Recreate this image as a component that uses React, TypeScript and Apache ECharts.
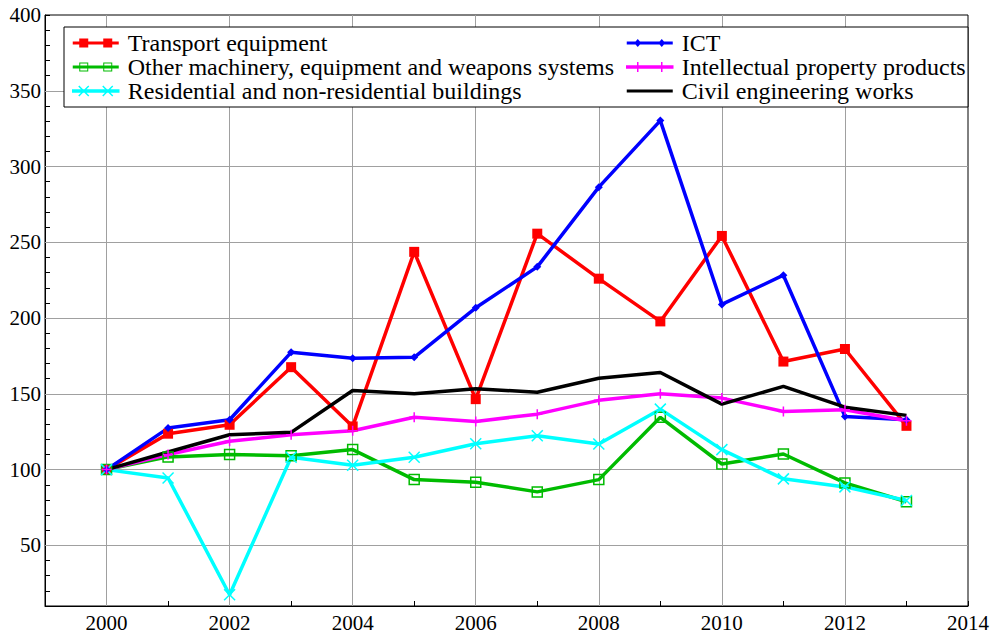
import React, { useEffect, useRef } from "react";
import * as echarts from "echarts";

const years = [2000, 2001, 2002, 2003, 2004, 2005, 2006, 2007, 2008, 2009, 2010, 2011, 2012, 2013];
const transport = [100, 123.7, 129.6, 167.6, 128.5, 243.7, 146.5, 255.7, 226, 197.8, 254.2, 171.3, 179.6, 128.9];
const otherMachinery = [100, 108.4, 109.9, 109.2, 113.2, 93.4, 91.7, 85.3, 93.4, 134.5, 103.7, 110.3, 91.2, 78.8];
const residential = [100, 94.5, 17.4, 108.2, 102.9, 108.2, 117.1, 122.4, 116.9, 139.9, 113.2, 93.9, 88.6, 79.6];
const ict = [100, 127.4, 132.9, 177.4, 173.5, 174.1, 206.8, 233.8, 286.4, 330.3, 209, 228.3, 135.1, 132.9];
const ipp = [100, 110, 118.7, 123, 125.7, 134.5, 131.8, 136.6, 145.7, 150, 147.2, 138.4, 139.5, 132.2];
const civil = [100, 111.6, 123, 124.6, 152.2, 150, 153.3, 151.1, 160.3, 164.1, 143.2, 154.9, 141.2, 135.8];

const seriesNames = [
  "Transport equipment",
  "Other machinery, equipment and weapons systems",
  "Residential and non-residential buildings",
  "ICT",
  "Intellectual property products",
  "Civil engineering works",
];

const xGridYears = [2000, 2002, 2004, 2006, 2008, 2010, 2012];
const yGridValues = [50, 100, 150, 200, 250, 300, 350];

const FONT = "'Liberation Serif', 'Times New Roman', serif";

const RED = "#ff0000";
const GREEN = "#00bb00";
const CYAN = "#00ffff";
const BLUE = "#0000ff";
const MAGENTA = "#ff00ff";
const BLACK = "#000000";

const icons = {
  transport: "path://M0,4.5H46V7.5H0Z M6.5,1.5H15.5V10.5H6.5Z M30.5,1.5H39.5V10.5H30.5Z",
  other:
    "path://M0,4.5H46V7.5H0Z M6.5,1.5H15.5V10.5H6.5Z M7.5,2.5V9.5H14.5V2.5Z M30.5,1.5H39.5V10.5H30.5Z M31.5,2.5V9.5H38.5V2.5Z",
  residential: "path://M0,5H46V7H0Z M6,1L16,11 M16,1L6,11 M30,1L40,11 M40,1L30,11",
  ict: "path://M0,4.5H46V7.5H0Z M11,2L14.5,6L11,10L7.5,6Z M35,2L38.5,6L35,10L31.5,6Z",
  ipp: "path://M0,5H46V7H0Z M11,1V11 M35,1V11",
  civil: "path://M0,4.5H46V7.5H0Z",
};

const pairs = (vals: number[]) => years.map((y, i) => [y, vals[i]]);

export default function App() {
  const ref = useRef<HTMLDivElement>(null);
  useEffect(() => {
    if (!ref.current) return;
    const chart = echarts.init(ref.current, undefined, { renderer: "svg" });
    const legendText = { fontFamily: FONT, fontSize: 24, color: "#000", lineHeight: 24, padding: [0, 0, 0, 4] };
    const legendCommon = {
      orient: "vertical",
      top: 31,
      itemGap: 0,
      itemWidth: 46,
      itemHeight: 12,
      padding: 0,
      selectedMode: false,
      z: 100,
      textStyle: legendText,
    };
    const LW = 3.5;
    const option: any = {
      animation: false,
      backgroundColor: "#fff",
      grid: {
        left: 45,
        top: 15,
        right: 27,
        bottom: 24,
        show: true,
        borderColor: "#000",
        borderWidth: 1,
        backgroundColor: "transparent",
      },
      xAxis: {
        type: "value",
        min: 1999,
        max: 2014,
        interval: 1,
        axisLine: { show: true, lineStyle: { color: "#000", width: 1 } },
        axisTick: { show: true, inside: true, length: 5, lineStyle: { color: "#000" } },
        splitLine: { show: false },
        axisLabel: {
          fontFamily: FONT,
          fontSize: 21,
          color: "#000",
          margin: 6,
          formatter: (v: number) => (v % 2 === 0 ? String(v) : ""),
        },
      },
      yAxis: {
        type: "value",
        min: 10,
        max: 400,
        interval: 10,
        axisLine: { show: true, lineStyle: { color: "#000", width: 1 } },
        axisTick: { show: true, inside: true, length: 5, lineStyle: { color: "#000" } },
        splitLine: { show: false },
        axisLabel: {
          fontFamily: FONT,
          fontSize: 21,
          color: "#000",
          margin: 4,
          formatter: (v: number) => (v % 50 === 0 ? String(v) : ""),
        },
      },
      legend: [
        {
          ...legendCommon,
          left: 72,
          data: [
            { name: seriesNames[0], icon: icons.transport, itemStyle: { color: RED, borderWidth: 0 } },
            { name: seriesNames[1], icon: icons.other, itemStyle: { color: GREEN, borderWidth: 0 } },
            {
              name: seriesNames[2],
              icon: icons.residential,
              itemStyle: { color: CYAN, borderColor: CYAN, borderWidth: 1.5 },
            },
          ],
        },
        {
          ...legendCommon,
          left: 626,
          data: [
            { name: seriesNames[3], icon: icons.ict, itemStyle: { color: BLUE, borderWidth: 0 } },
            {
              name: seriesNames[4],
              icon: icons.ipp,
              itemStyle: { color: MAGENTA, borderColor: MAGENTA, borderWidth: 1.5 },
            },
            { name: seriesNames[5], icon: icons.civil, itemStyle: { color: BLACK, borderWidth: 0 } },
          ],
        },
      ],
      graphic: {
        elements: [
          {
            type: "rect",
            z: 50,
            silent: true,
            shape: { x: 64, y: 27, width: 904, height: 80 },
            style: { fill: "#fff", stroke: "#000", lineWidth: 1 },
          },
        ],
      },
      series: [
        {
          name: seriesNames[0],
          type: "line",
          z: 2,
          data: pairs(transport),
          symbol: "rect",
          symbolSize: 10,
          lineStyle: { color: RED, width: LW },
          itemStyle: { color: RED },
          emphasis: { disabled: true },
          markLine: {
            silent: true,
            z: 1,
            symbol: ["none", "none"],
            label: { show: false },
            lineStyle: { color: "#a0a0a0", width: 1, type: "solid" },
            emphasis: { disabled: true },
            data: [
              ...xGridYears.map((v) => ({ xAxis: v })),
              ...yGridValues.map((v) => ({ yAxis: v })),
            ],
          },
        },
        {
          name: seriesNames[1],
          type: "line",
          z: 2,
          data: pairs(otherMachinery),
          symbol: "rect",
          symbolSize: 10,
          lineStyle: { color: GREEN, width: LW },
          itemStyle: { color: "rgba(0,0,0,0)", borderColor: GREEN, borderWidth: 1.5 },
          emphasis: { disabled: true },
        },
        {
          name: seriesNames[2],
          type: "line",
          z: 2,
          data: pairs(residential),
          symbol: "path://M0,0L10,10M10,0L0,10",
          symbolSize: 11,
          lineStyle: { color: CYAN, width: LW },
          itemStyle: { color: "rgba(0,0,0,0)", borderColor: CYAN, borderWidth: 1.5 },
          emphasis: { disabled: true },
        },
        {
          name: seriesNames[3],
          type: "line",
          z: 2,
          data: pairs(ict),
          symbol: "diamond",
          symbolSize: 8,
          lineStyle: { color: BLUE, width: LW },
          itemStyle: { color: BLUE },
          emphasis: { disabled: true },
        },
        {
          name: seriesNames[4],
          type: "line",
          z: 2,
          data: pairs(ipp),
          symbol: "path://M5,0L5,10M0,5L10,5",
          symbolSize: 10,
          lineStyle: { color: MAGENTA, width: LW },
          itemStyle: { color: "rgba(0,0,0,0)", borderColor: MAGENTA, borderWidth: 1.5 },
          emphasis: { disabled: true },
        },
        {
          name: seriesNames[5],
          type: "line",
          z: 2,
          data: pairs(civil),
          symbol: "none",
          lineStyle: { color: BLACK, width: LW },
          itemStyle: { color: BLACK },
          emphasis: { disabled: true },
        },
      ],
    };
    chart.setOption(option);
    return () => chart.dispose();
  }, []);
  return (
    <div
      ref={ref}
      style={{ position: "fixed", left: 0, top: 0, width: 995, height: 633, background: "#fff" }}
    />
  );
}
